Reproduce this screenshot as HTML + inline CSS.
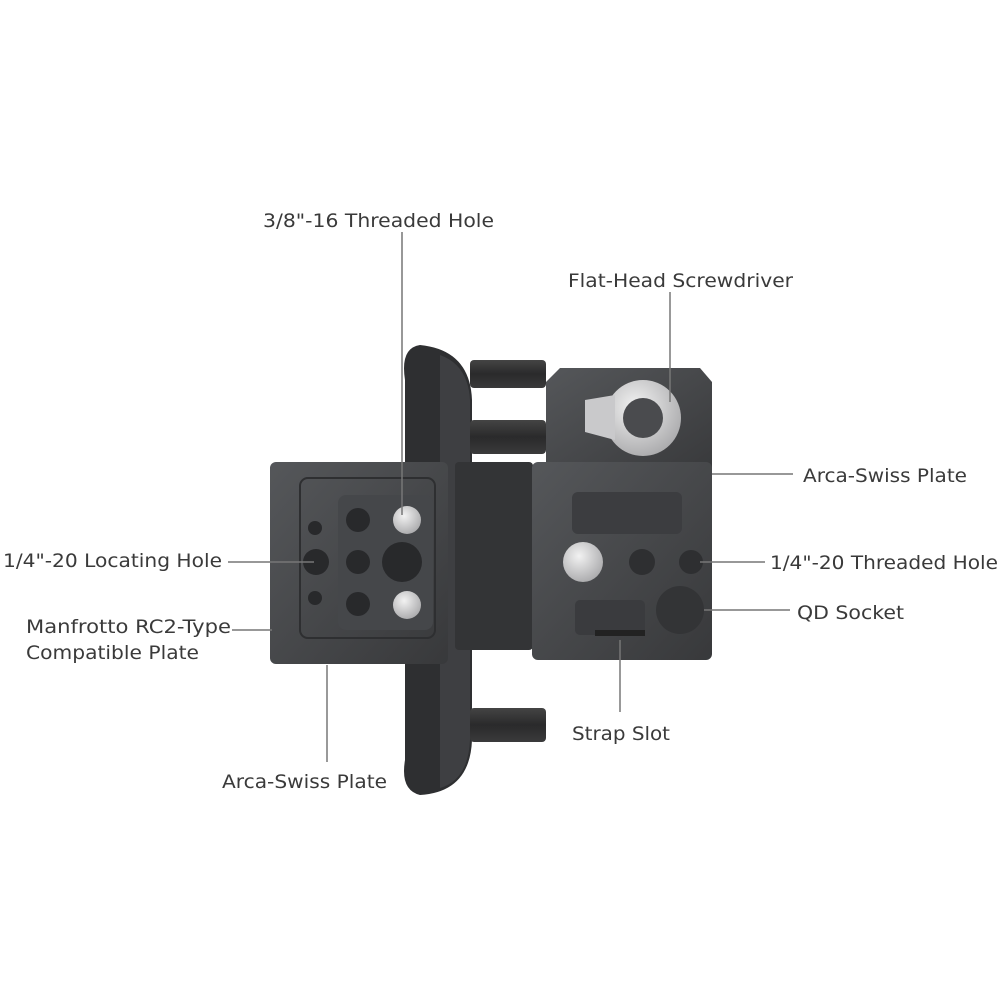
<!DOCTYPE html>
<html><head><meta charset="utf-8"><style>
html,body{margin:0;padding:0;background:#fff;}
svg{display:block}
text{font-family:"DejaVu Sans","Liberation Sans",sans-serif;font-size:19px;fill:#3a3a3a;}
</style></head><body>
<svg width="1000" height="1000" viewBox="0 0 1000 1000">
<defs>
<linearGradient id="g1" x1="0" y1="0" x2="1" y2="1"><stop offset="0" stop-color="#55575a"/><stop offset="1" stop-color="#38393b"/></linearGradient>
<linearGradient id="peg" x1="0" y1="0" x2="0" y2="1"><stop offset="0" stop-color="#444"/><stop offset=".5" stop-color="#2a2a2b"/><stop offset="1" stop-color="#3a3a3b"/></linearGradient>
<radialGradient id="silver" cx=".4" cy=".35" r=".7"><stop offset="0" stop-color="#f2f2f2"/><stop offset="1" stop-color="#a9a9ab"/></radialGradient>
</defs>
<path d="M420 345 Q470 350 472 400 L472 740 Q470 792 420 795 Q400 790 405 760 L405 380 Q400 348 420 345Z" fill="#2e2f31"/>
<path d="M440 355 Q468 365 470 400 L470 740 Q468 780 440 788 Z" fill="#3e3f42"/>
<rect x="470" y="360" width="76" height="28" rx="4" fill="url(#peg)"/>
<rect x="470" y="420" width="76" height="34" rx="4" fill="url(#peg)"/>
<rect x="470" y="708" width="76" height="34" rx="4" fill="url(#peg)"/>
<rect x="455" y="462" width="78" height="188" rx="4" fill="#333436"/>
<path d="M560 368 L700 368 L712 382 L712 475 L546 475 L546 382Z" fill="url(#g1)"/>
<circle cx="643" cy="418" r="38" fill="url(#silver)"/>
<path d="M585 400 L615 395 L615 440 L585 432Z" fill="#c9c9cb"/>
<circle cx="643" cy="418" r="20" fill="#4a4b4e"/>
<rect x="532" y="462" width="180" height="198" rx="6" fill="url(#g1)"/>
<rect x="572" y="492" width="110" height="42" rx="6" fill="#3c3d40"/>
<circle cx="583" cy="562" r="20" fill="url(#silver)"/>
<circle cx="642" cy="562" r="13" fill="#2e2f31"/>
<circle cx="691" cy="562" r="12" fill="#2e2f31"/>
<circle cx="680" cy="610" r="24" fill="#333436"/>
<rect x="575" y="600" width="70" height="35" rx="5" fill="#3a3b3e"/>
<rect x="595" y="630" width="50" height="6" fill="#222"/>
<rect x="270" y="462" width="178" height="202" rx="6" fill="url(#g1)"/>
<rect x="300" y="478" width="135" height="160" rx="8" fill="none" stroke="#2e2f31" stroke-width="2"/>
<rect x="338" y="495" width="95" height="135" rx="8" fill="#45474a"/>
<circle cx="358" cy="520" r="12" fill="#28292b"/><circle cx="358" cy="562" r="12" fill="#28292b"/><circle cx="358" cy="604" r="12" fill="#28292b"/>
<circle cx="315" cy="528" r="7" fill="#28292b"/><circle cx="316" cy="562" r="13" fill="#28292b"/><circle cx="315" cy="598" r="7" fill="#28292b"/>
<circle cx="402" cy="562" r="20" fill="#28292b"/>
<circle cx="407" cy="520" r="14" fill="url(#silver)"/><circle cx="407" cy="605" r="14" fill="url(#silver)"/>
<g stroke="#777" stroke-width="1.5" fill="none">
<line x1="402" y1="232" x2="402" y2="515"/>
<line x1="670" y1="292" x2="670" y2="402"/>
<line x1="712" y1="474" x2="793" y2="474"/>
<line x1="700" y1="562" x2="765" y2="562"/>
<line x1="704" y1="610" x2="790" y2="610"/>
<line x1="620" y1="640" x2="620" y2="712"/>
<line x1="327" y1="665" x2="327" y2="762"/>
<line x1="228" y1="562" x2="314" y2="562"/>
<line x1="232" y1="630" x2="272" y2="630"/>
</g>
<text x="263" y="227" textLength="231" lengthAdjust="spacingAndGlyphs">3/8"-16 Threaded Hole</text>
<text x="568" y="287" textLength="225" lengthAdjust="spacingAndGlyphs">Flat-Head Screwdriver</text>
<text x="803" y="482" textLength="164" lengthAdjust="spacingAndGlyphs">Arca-Swiss Plate</text>
<text x="770" y="569" textLength="228" lengthAdjust="spacingAndGlyphs">1/4"-20 Threaded Hole</text>
<text x="797" y="619" textLength="107" lengthAdjust="spacingAndGlyphs">QD Socket</text>
<text x="572" y="740" textLength="98" lengthAdjust="spacingAndGlyphs">Strap Slot</text>
<text x="222" y="788" textLength="165" lengthAdjust="spacingAndGlyphs">Arca-Swiss Plate</text>
<text x="3" y="567" textLength="219" lengthAdjust="spacingAndGlyphs">1/4"-20 Locating Hole</text>
<text x="26" y="633" textLength="205" lengthAdjust="spacingAndGlyphs">Manfrotto RC2-Type</text>
<text x="26" y="659" textLength="173" lengthAdjust="spacingAndGlyphs">Compatible Plate</text>
</svg>
</body></html>
